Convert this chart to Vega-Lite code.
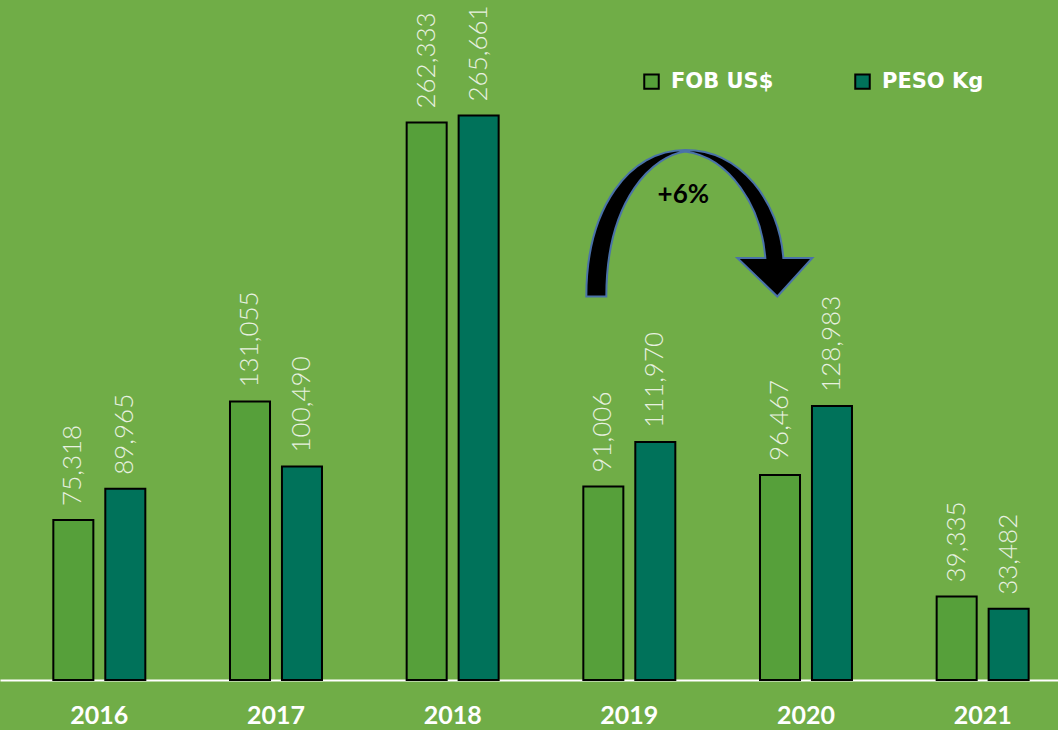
{
  "$schema": "https://vega.github.io/schema/vega-lite/v6.json",
  "width": 1058,
  "height": 680,
  "autosize": "none",
  "padding": {"left": 0, "top": 0, "right": 0, "bottom": 50},
  "background": "#70AD47",
  "config": {"view": {"stroke": null}},
  "datasets": {
    "bars": [
      {"year": "2016", "series": "FOB US$", "value": 75318},
      {"year": "2016", "series": "PESO Kg", "value": 89965},
      {"year": "2017", "series": "FOB US$", "value": 131055},
      {"year": "2017", "series": "PESO Kg", "value": 100490},
      {"year": "2018", "series": "FOB US$", "value": 262333},
      {"year": "2018", "series": "PESO Kg", "value": 265661},
      {"year": "2019", "series": "FOB US$", "value": 91006},
      {"year": "2019", "series": "PESO Kg", "value": 111970},
      {"year": "2020", "series": "FOB US$", "value": 96467},
      {"year": "2020", "series": "PESO Kg", "value": 128983},
      {"year": "2021", "series": "FOB US$", "value": 39335},
      {"year": "2021", "series": "PESO Kg", "value": 33482}
    ],
    "note": [{"year": "2019", "anchor": 180000, "textpos": 228235, "label": "+6%"}]
  },
  "layer": [
    {
      "data": {"name": "bars"},
      "mark": {"type": "bar", "stroke": "black", "strokeWidth": 2},
      "encoding": {
        "x": {
          "field": "year",
          "type": "nominal",
          "scale": {"paddingInner": 0.4793, "paddingOuter": 0.234, "align": 0.645},
          "axis": {
            "title": null,
            "labelAngle": 0,
            "labelFont": "Lato",
            "labelFontWeight": "bold",
            "labelFontSize": 25,
            "labelColor": "white",
            "labelPadding": 23,
            "ticks": false,
            "domainColor": "white",
            "domainWidth": 2
          }
        },
        "y": {
          "field": "value",
          "type": "quantitative",
          "scale": {"domain": [0, 320000], "nice": false, "zero": true},
          "axis": null
        },
        "xOffset": {
          "field": "series",
          "type": "nominal",
          "sort": ["FOB US$", "PESO Kg"],
          "scale": {"paddingInner": 0.23, "paddingOuter": 0}
        },
        "color": {
          "field": "series",
          "type": "nominal",
          "scale": {"domain": ["FOB US$", "PESO Kg"], "range": ["#56A03A", "#00725A"]},
          "legend": {
            "title": null,
            "orient": "none",
            "legendX": 641,
            "legendY": 71,
            "direction": "horizontal",
            "padding": 0,
            "symbolType": "square",
            "symbolSize": 210,
            "symbolStrokeColor": "black",
            "symbolStrokeWidth": 2,
            "labelFont": "DejaVu Sans",
            "labelFontWeight": "bold",
            "labelFontSize": 21,
            "labelColor": "white",
            "labelOffset": 9,
            "columnPadding": 77
          }
        }
      }
    },
    {
      "data": {"name": "bars"},
      "mark": {
        "type": "text",
        "angle": 270,
        "align": "left",
        "baseline": "middle",
        "dx": 14,
        "font": "Lato",
        "fontWeight": 300,
        "fontSize": 26,
        "color": "#E8F1E0"
      },
      "encoding": {
        "x": {"field": "year", "type": "nominal"},
        "y": {"field": "value", "type": "quantitative"},
        "xOffset": {
          "field": "series",
          "type": "nominal",
          "sort": ["FOB US$", "PESO Kg"]
        },
        "text": {"field": "value", "type": "quantitative", "format": ","}
      }
    },
    {
      "data": {"name": "note"},
      "mark": {
        "type": "point",
        "shape": "M -43 -1 C -43 -90 0 -147.5 56 -147.5 C 112 -147.5 150 -95 154 -39.5 L 183 -39.5 L 148 -1 L 108 -39.5 L 136 -39.5 C 132 -92 100 -140 56 -146 C 25 -142 -23 -100 -23 -1 Z",
        "size": 4,
        "filled": true,
        "fill": "black",
        "stroke": "#4A72A8",
        "strokeWidth": 2,
        "opacity": 1
      },
      "encoding": {
        "x": {"field": "year", "type": "nominal"},
        "y": {"field": "anchor", "type": "quantitative"}
      }
    },
    {
      "data": {"name": "note"},
      "mark": {
        "type": "text",
        "dx": 54,
        "font": "Lato",
        "fontWeight": "bold",
        "fontSize": 26,
        "color": "black",
        "align": "center",
        "baseline": "middle"
      },
      "encoding": {
        "x": {"field": "year", "type": "nominal"},
        "y": {"field": "textpos", "type": "quantitative"},
        "text": {"field": "label", "type": "nominal"}
      }
    }
  ]
}
